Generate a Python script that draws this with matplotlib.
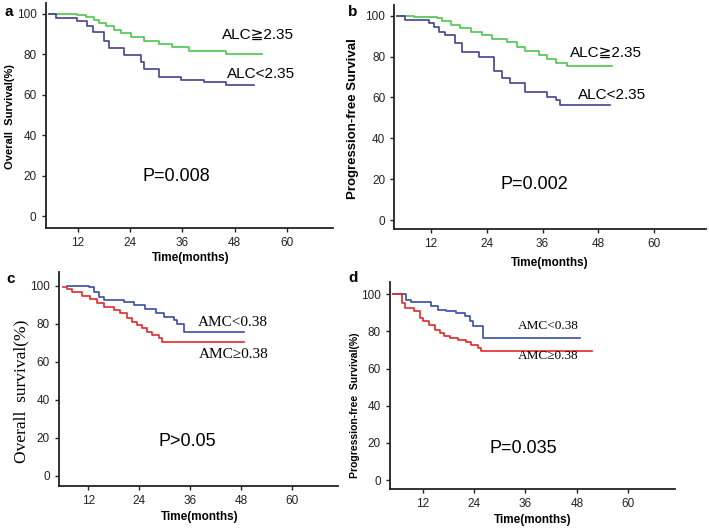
import matplotlib
matplotlib.use("Agg")
import matplotlib.pyplot as plt

W, H = 709, 528
SANS = ['Liberation Sans', 'DejaVu Sans']
SERIF = ['Liberation Serif', 'DejaVu Serif']

# ---- data ----
# Panel a: Overall survival by ALC
a_hi_t = [5.4, 11.9, 13.8, 15.7, 16.9, 18.4, 20.3, 21.9, 24.2, 27.2, 30.7, 33.7, 37.6, 46.0, 54.4]
a_hi_s = [100, 99.4, 98.4, 96.9, 95.5, 93.9, 92.0, 90.6, 88.6, 86.8, 85.1, 83.5, 81.8, 80.3, 80.3]
a_lo_t = [5.4, 6.9, 11.9, 14.2, 15.4, 18.0, 19.2, 22.6, 26.5, 27.2, 30.7, 35.7, 41.0, 46.0, 52.5]
a_lo_s = [100, 98.0, 96.7, 93.9, 91.1, 86.5, 83.2, 79.9, 76.2, 72.9, 68.8, 67.5, 66.3, 65.0, 65.0]
# Panel b: Progression-free survival by ALC
b_hi_t = [4.7, 8.3, 13.3, 14.4, 16.2, 18.3, 20.5, 23.0, 25.1, 28.4, 30.5, 32.3, 35.2, 37.0, 38.8, 41.3, 51.0]
b_hi_s = [100, 99.5, 98.7, 97.6, 95.4, 93.8, 92.2, 90.5, 88.6, 87.0, 84.8, 82.9, 80.8, 78.7, 77.0, 75.4, 75.4]
b_lo_t = [4.7, 6.5, 11.5, 12.6, 13.7, 15.1, 17.2, 18.7, 22.3, 25.6, 27.3, 29.1, 32.3, 37.0, 38.8, 39.8, 50.6]
b_lo_s = [100, 97.9, 96.6, 94.6, 92.2, 90.5, 86.5, 82.4, 80.0, 72.8, 69.4, 66.9, 62.8, 60.4, 58.7, 56.4, 56.4]
# Panel c: Overall survival by AMC
c_lo_t = [6.9, 12.1, 13.3, 14.4, 15.6, 20.3, 22.7, 25.4, 27.8, 29.7, 32.1, 32.9, 34.4, 48.6]
c_lo_s = [100, 99.1, 96.8, 94.2, 92.5, 91.3, 89.9, 87.8, 85.5, 83.7, 82.0, 79.7, 75.5, 75.5]
c_hi_t = [6.0, 7.0, 8.2, 10.5, 12.5, 14.0, 15.6, 18.0, 19.5, 21.1, 22.3, 23.5, 24.6, 25.8, 27.0, 28.6, 29.3, 48.6]
c_hi_s = [99.5, 98.1, 96.4, 94.6, 92.9, 91.1, 89.0, 87.2, 85.5, 82.9, 81.1, 79.4, 77.6, 75.9, 74.1, 72.4, 70.3, 70.3]
# Panel d: Progression-free survival by AMC
d_lo_t = [5.1, 8.2, 9.3, 14.0, 15.6, 17.5, 19.8, 21.8, 23.0, 23.7, 26.0, 48.7]
d_lo_s = [100, 97.1, 95.8, 93.5, 91.7, 90.8, 89.9, 88.2, 85.4, 82.8, 76.5, 76.5]
d_hi_t = [5.1, 7.2, 7.8, 10.1, 11.3, 12.1, 13.6, 14.8, 16.0, 17.1, 18.3, 20.2, 22.2, 23.3, 24.9, 25.7, 51.5]
d_hi_s = [100, 95.3, 92.6, 90.8, 87.2, 85.4, 83.6, 80.9, 79.1, 77.8, 76.4, 75.5, 74.2, 72.8, 71.0, 69.5, 69.5]

x_ticks = [12, 24, 36, 48, 60]
y_ticks = [0, 20, 40, 60, 80, 100]

GREEN = '#4ec44e'
NAVY = '#43438f'
BLUE = '#3a4da3'
RED = '#e02a2a'

fig = plt.figure(figsize=(W / 100, H / 100), dpi=100)


def axes_px(left, top, right, bottom):
    return fig.add_axes([left / W, 1 - bottom / H, (right - left) / W, (bottom - top) / H])


def style(ax, xlim, ylim):
    ax.set_xlim(*xlim)
    ax.set_ylim(*ylim)
    ax.set_xticks(x_ticks)
    ax.set_yticks(y_ticks)
    for s in ('top', 'right'):
        ax.spines[s].set_visible(False)
    for s in ('left', 'bottom'):
        ax.spines[s].set_linewidth(1.3)
        ax.spines[s].set_color('#222222')
    ax.tick_params(labelsize=8.5, length=3, width=1, colors='#222222')
    for lab in ax.get_xticklabels() + ax.get_yticklabels():
        lab.set_family(SANS)


def ftext(x, y, s, **kw):
    fig.text(x / W, 1 - y / H, s, ha='center', va='center', **kw)


# Panel a
ax = axes_px(45.5, 3, 333, 228)
style(ax, (4.6, 70.6), (-5.9, 105.4))
ax.step(a_hi_t, a_hi_s, where='post', color=GREEN, lw=1.2)
ax.step(a_lo_t, a_lo_s, where='post', color=NAVY, lw=1.2)
ax.text(45.1, 89.6, 'ALC≧2.35', family=SANS, fontsize=11, va='center', ha='left')
ax.text(46.2, 70.3, 'ALC<2.35', family=SANS, fontsize=11, va='center', ha='left')
ax.text(34.6, 19.5, 'P=0.008', family=SANS, fontsize=13, va='center', ha='center')
ftext(10, 116.5, 'Overall  Survival(%)', rotation=90, fontsize=8, fontweight='bold', family=SANS)
ftext(191, 258, 'Time(months)', fontsize=8.5, fontweight='bold', family=SANS)
ftext(9, 12, 'a', fontsize=11, fontweight='bold', family=SANS)

# Panel b
ax = axes_px(394.3, 5, 705.7, 229)
style(ax, (4.1, 71.1), (-4.4, 105.2))
ax.step(b_hi_t, b_hi_s, where='post', color=GREEN, lw=1.2)
ax.step(b_lo_t, b_lo_s, where='post', color=NAVY, lw=1.2)
ax.text(41.9, 81.6, 'ALC≧2.35', family=SANS, fontsize=11, va='center', ha='left')
ax.text(43.6, 61.2, 'ALC<2.35', family=SANS, fontsize=11, va='center', ha='left')
ax.text(34.2, 17.5, 'P=0.002', family=SANS, fontsize=13, va='center', ha='center')
ftext(353, 119, 'Progression-free Survival', rotation=90, fontsize=9.5, fontweight='bold', family=SANS)
ftext(550, 263, 'Time(months)', fontsize=8.5, fontweight='bold', family=SANS)
ftext(353, 12, 'b', fontsize=11, fontweight='bold', family=SANS)

# Panel c
ax = axes_px(59, 272.3, 338.3, 485.7)
style(ax, (5.1, 70.8), (-5.1, 107))
ax.step(c_lo_t, c_lo_s, where='post', color=BLUE, lw=1.2)
ax.step(c_hi_t, c_hi_s, where='post', color=RED, lw=1.2)
ax.text(37.8, 80.8, 'AMC<0.38', family=SERIF, fontsize=11, va='center', ha='left')
ax.text(38.1, 64.0, 'AMC≥0.38', family=SERIF, fontsize=11, va='center', ha='left')
ax.text(35.2, 18.0, 'P>0.05', family=SANS, fontsize=13, va='center', ha='center')
ftext(21, 391, 'Overall  survival(%)', rotation=90, fontsize=12.5, family=SERIF)
ftext(200, 516.7, 'Time(months)', fontsize=8.5, fontweight='bold', family=SANS)
ftext(11, 279, 'c', fontsize=11, fontweight='bold', family=SANS)

# Panel d
ax = axes_px(390, 281.7, 675, 489.3)
style(ax, (4.4, 70.9), (-5.0, 106.8))
ax.step(d_lo_t, d_lo_s, where='post', color=BLUE, lw=1.2)
ax.step(d_hi_t, d_hi_s, where='post', color=RED, lw=1.2)
ax.text(34.3, 82.9, 'AMC<0.38', family=SERIF, fontsize=9.5, va='center', ha='left')
ax.text(34.3, 66.9, 'AMC≥0.38', family=SERIF, fontsize=9.5, va='center', ha='left')
ax.text(35.4, 17.0, 'P=0.035', family=SANS, fontsize=13, va='center', ha='center')
ftext(355, 405, 'Progression-free  Survival(%)', rotation=90, fontsize=7.5, fontweight='bold', family=SANS)
ftext(533, 520, 'Time(months)', fontsize=8.5, fontweight='bold', family=SANS)
ftext(353, 278, 'd', fontsize=11, fontweight='bold', family=SANS)

fig.savefig('out.png', dpi=100)
